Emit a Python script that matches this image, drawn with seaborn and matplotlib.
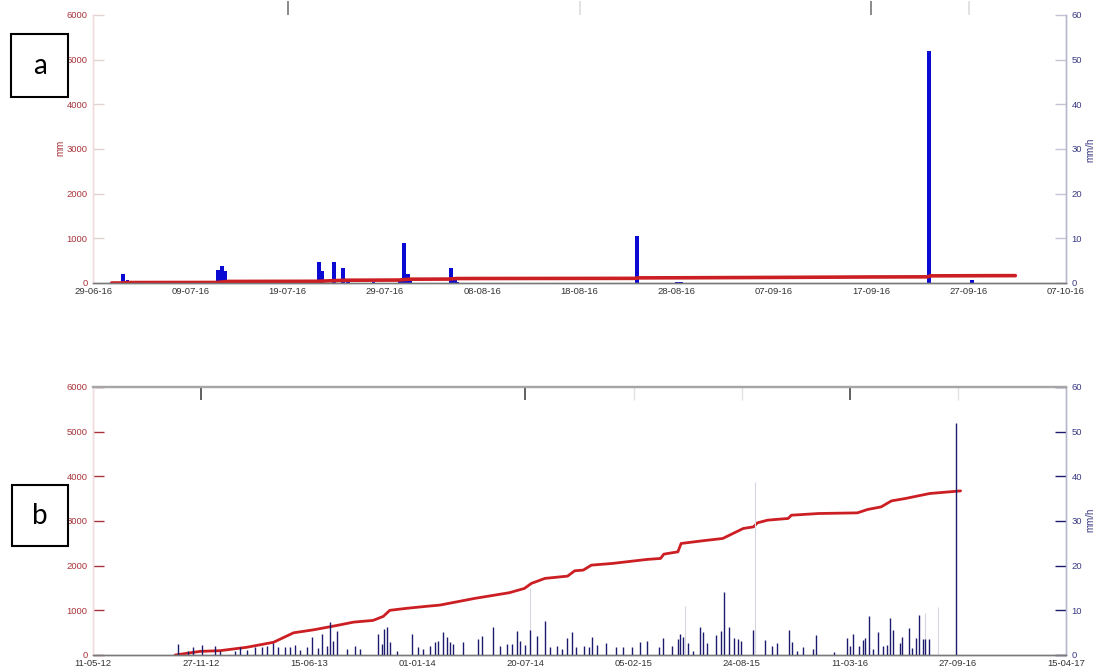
import pandas as pd
import matplotlib
matplotlib.use("Agg")
import matplotlib.pyplot as plt
import matplotlib.dates as mdates
from matplotlib.patches import Rectangle
import seaborn as sns

# ---------------- panel a : 29-06-16 .. 07-10-16 ----------------
a_cum_time = ["2016-06-30 22:00", "2016-07-01 22:00", "2016-07-02 14:00", "2016-07-11 17:00",
              "2016-07-12 22:00", "2016-07-22 00:00", "2016-07-24 22:00", "2016-07-30 10:00",
              "2016-07-31 12:00", "2016-08-04 14:00", "2016-08-05 10:00", "2016-08-23 17:00",
              "2016-08-24 02:00", "2016-08-28 14:00", "2016-09-07 00:00", "2016-09-17 00:00",
              "2016-09-22 19:00", "2016-09-23 02:00", "2016-09-27 14:00", "2016-10-01 19:00"]
a_cum_mm = [0, 0, 10, 12, 35, 38, 62, 66, 85, 88, 100, 104, 115, 117, 125, 135, 138, 160, 163, 165]

a_rain_time = ["2016-07-02 02:00", "2016-07-02 13:00", "2016-07-11 19:00", "2016-07-12 01:00",
               "2016-07-12 07:00", "2016-07-12 13:00", "2016-07-12 20:00", "2016-07-14 02:00",
               "2016-07-22 05:00", "2016-07-22 14:00", "2016-07-23 18:00", "2016-07-24 17:00",
               "2016-07-25 05:00", "2016-07-27 20:00", "2016-07-30 13:00", "2016-07-30 23:00",
               "2016-07-31 08:00", "2016-07-31 14:00", "2016-08-04 20:00", "2016-08-05 04:00",
               "2016-08-05 10:00", "2016-08-23 22:00", "2016-08-28 00:00", "2016-08-28 10:00",
               "2016-09-22 23:00", "2016-09-27 08:00"]
a_rain_mmh = [2.0, 0.7, 2.9, 3.0, 3.7, 2.7, 0.4, 0.3,
              4.8, 2.7, 4.6, 3.4, 0.3, 0.3, 0.6, 9.0,
              2.1, 0.4, 3.4, 0.8, 0.3, 10.6, 0.25, 0.25,
              52.0, 0.7]
a_ticks = ["2016-06-29", "2016-07-09", "2016-07-19", "2016-07-29", "2016-08-08", "2016-08-18",
           "2016-08-28", "2016-09-07", "2016-09-17", "2016-09-27", "2016-10-07"]

# ---------------- panel b : 11-05-12 .. 15-04-17 ----------------
b_cum_time = ["2012-10-10", "2012-11-25", "2013-01-01", "2013-02-19", "2013-04-10", "2013-05-17",
              "2013-06-23", "2013-08-05", "2013-09-05", "2013-10-11", "2013-10-30", "2013-11-11",
              "2013-12-12", "2014-01-18", "2014-02-12", "2014-04-17", "2014-06-20", "2014-07-18",
              "2014-07-31", "2014-08-25", "2014-10-06", "2014-10-19", "2014-11-04", "2014-11-19",
              "2014-12-28", "2015-03-02", "2015-03-27", "2015-04-02", "2015-04-28", "2015-05-04",
              "2015-06-12", "2015-07-20", "2015-08-08", "2015-08-27", "2015-09-15", "2015-09-22",
              "2015-10-11", "2015-11-18", "2015-11-24", "2016-01-14", "2016-03-25", "2016-04-13",
              "2016-05-08", "2016-05-27", "2016-06-22", "2016-08-06", "2016-10-02"]
b_cum_mm = [0, 81, 97, 172, 285, 497, 564, 661, 736, 774, 864, 1000,
            1045, 1090, 1118, 1267, 1394, 1490, 1603, 1715, 1766, 1885, 1901, 2012,
            2050, 2140, 2162, 2258, 2310, 2497, 2556, 2609, 2721, 2833, 2869, 2958,
            3019, 3057, 3130, 3168, 3182, 3258, 3316, 3450, 3504, 3616, 3674]

b_rain_time = ["2012-10-16", "2012-11-03", "2012-11-12", "2012-11-29", "2012-12-23", "2013-01-01",
               "2013-01-29", "2013-02-07", "2013-02-20", "2013-03-07", "2013-03-20", "2013-03-29",
               "2013-04-09", "2013-04-18", "2013-05-01", "2013-05-10", "2013-05-20", "2013-05-29",
               "2013-06-11", "2013-06-20", "2013-07-01", "2013-07-09", "2013-07-18", "2013-07-23",
               "2013-07-29", "2013-08-05", "2013-08-24", "2013-09-08", "2013-09-17", "2013-10-20",
               "2013-10-28", "2013-10-31", "2013-11-06", "2013-11-11", "2013-11-24", "2013-12-22",
               "2014-01-02", "2014-01-11", "2014-01-24", "2014-02-03", "2014-02-08", "2014-02-17",
               "2014-02-25", "2014-03-02", "2014-03-08", "2014-03-26", "2014-04-23", "2014-05-01",
               "2014-05-21", "2014-06-03", "2014-06-16", "2014-06-25", "2014-07-04", "2014-07-10",
               "2014-07-19", "2014-07-28", "2014-08-10", "2014-08-25", "2014-09-03", "2014-09-16",
               "2014-09-25", "2014-10-05", "2014-10-14", "2014-10-22", "2014-11-05", "2014-11-15",
               "2014-11-21", "2014-11-30", "2014-12-16", "2015-01-04", "2015-01-17", "2015-02-02",
               "2015-02-17", "2015-03-02", "2015-03-24", "2015-03-31", "2015-04-18", "2015-04-28",
               "2015-05-02", "2015-05-08", "2015-05-17", "2015-05-26", "2015-06-08", "2015-06-14",
               "2015-06-21", "2015-07-07", "2015-07-16", "2015-07-22", "2015-08-01", "2015-08-10",
               "2015-08-17", "2015-08-23", "2015-09-14", "2015-10-06", "2015-10-19", "2015-10-28",
               "2015-11-20", "2015-11-26", "2015-12-05", "2015-12-16", "2016-01-03", "2016-01-08",
               "2016-02-10", "2016-03-05", "2016-03-11", "2016-03-17", "2016-03-28", "2016-04-04",
               "2016-04-09", "2016-04-16", "2016-04-23", "2016-05-02", "2016-05-12", "2016-05-18",
               "2016-05-24", "2016-05-30", "2016-06-12", "2016-06-15", "2016-06-28", "2016-07-04",
               "2016-07-12", "2016-07-17", "2016-07-25", "2016-07-29", "2016-08-04", "2016-09-22 23:00"]
b_rain_mmh = [2.5, 1.0, 1.7, 2.3, 2.1, 1.0,
              0.8, 1.7, 1.1, 1.7, 1.7, 2.1,
              2.6, 1.9, 1.7, 1.7, 2.2, 1.1,
              1.7, 4.1, 1.6, 4.7, 2.1, 7.5,
              3.2, 5.3, 1.3, 2.1, 1.3, 4.8,
              2.5, 5.8, 6.3, 2.8, 1.0, 4.8,
              1.7, 1.3, 2.1, 2.8, 3.2, 5.1,
              4.0, 2.8, 2.5, 2.8, 3.6, 4.3,
              6.2, 2.1, 2.5, 2.5, 5.3, 3.2,
              2.3, 5.6, 4.3, 7.7, 1.7, 2.1,
              1.3, 3.8, 5.2, 1.7, 2.1, 1.7,
              4.1, 2.3, 2.7, 1.7, 1.7, 1.9,
              2.9, 3.2, 1.7, 3.9, 2.1, 3.5,
              4.7, 4.1, 2.6, 1.0, 6.2, 5.2,
              2.6, 4.4, 5.4, 14.0, 6.2, 3.7,
              3.5, 3.1, 5.5, 3.3, 2.1, 2.7,
              5.7, 2.9, 1.0, 1.7, 1.3, 4.4,
              0.6, 3.9, 2.1, 4.7, 2.1, 3.3,
              3.7, 8.8, 1.3, 5.2, 2.1, 2.3,
              8.3, 5.5, 2.6, 4.1, 6.0, 1.6,
              3.9, 9.0, 3.5, 3.5, 3.5, 52.0]

# short, sharp bursts (drawn as hairlines)
b_burst_time = ["2014-07-28", "2015-05-12", "2015-09-18", "2016-07-28", "2016-08-22"]
b_burst_mmh = [15.0, 11.0, 38.7, 9.3, 10.7]

b_ticks = ["2012-05-11", "2012-11-27", "2013-06-15", "2014-01-01", "2014-07-20", "2015-02-05",
           "2015-08-24", "2016-03-11", "2016-09-27", "2017-04-15"]


def to_time(values):
    return pd.to_datetime(values, format="ISO8601")


# ---------------- styling ----------------
RED = "#cc1f24"
RED_TXT = "#a8343a"
BLUE = "#0a0ad2"
NAVY = "#1c1c6e"
NAVY_TXT = "#3a3a82"
FS = 6.8

sns.set_theme(style="white")
plt.rcParams["font.family"] = ["Liberation Sans", "DejaVu Sans"]

W, H = 1096, 670
fig = plt.figure(figsize=(W / 100, H / 100), dpi=100)


def px_axes(left, top, right, bottom):
    return fig.add_axes([left / W, 1 - bottom / H, (right - left) / W, (bottom - top) / H])


def style_panel(ax, ax2, ticks, strong_left, strong_right):
    ax.set_xlim(to_time([ticks[0]])[0], to_time([ticks[-1]])[0])
    ax.set_ylim(0, 6000)
    ax2.set_ylim(0, 60)
    ax.set_xticks(to_time(ticks))
    ax.xaxis.set_major_formatter(mdates.DateFormatter("%d-%m-%y"))
    ax.set_yticks(range(0, 6001, 1000))
    ax2.set_yticks(range(0, 61, 10))
    ax.tick_params(axis="x", length=0, labelsize=FS, labelcolor="#333333", pad=3)
    ax.tick_params(axis="y", direction="in", length=8, width=1,
                   color=RED_TXT if strong_left else "#e2d2d2",
                   labelsize=FS, labelcolor=RED_TXT, pad=4)
    ax2.tick_params(axis="y", direction="in", length=8, width=1,
                    color=NAVY if strong_right else "#c4c4d6",
                    labelsize=FS, labelcolor=NAVY_TXT, pad=4)
    for a in (ax, ax2):
        a.grid(False)
        a.set_xlabel("")
        a.set_ylabel("")
        a.spines["left"].set_color("#f0dcdc")
        a.spines["right"].set_color("#b8b8cc")
        a.spines["bottom"].set_color("#7a7a7a")
        for s in a.spines.values():
            s.set_linewidth(1.0)


# ---------------- panel a ----------------
ax_a = px_axes(93, 15, 1066, 283)
ax_a2 = ax_a.twinx()
ax_a2.bar(to_time(a_rain_time), a_rain_mmh, width=0.4, color=BLUE, linewidth=0, align="center")
cum_a = pd.DataFrame({"time": to_time(a_cum_time), "mm": a_cum_mm})
sns.lineplot(data=cum_a, x="time", y="mm", ax=ax_a, color=RED, linewidth=2.6)
ax_a.set_zorder(ax_a2.get_zorder() + 1)
ax_a.patch.set_visible(False)
style_panel(ax_a, ax_a2, a_ticks, False, False)
for a in (ax_a, ax_a2):
    a.spines["top"].set_visible(False)

# faint tick marks along the top and bottom edges of panel a
top_a = ax_a.secondary_xaxis("top")
top_a.set_xticks(to_time(["2016-07-19", "2016-09-17"]))
top_a.set_xticks(to_time(["2016-08-18", "2016-09-27"]), minor=True)
top_a.tick_params(which="major", direction="out", length=10, width=1.2, color="#777777", labeltop=False)
top_a.tick_params(which="minor", direction="out", length=10, width=1.2, color="#dddddd", labeltop=False)
top_a.spines["top"].set_visible(False)
ax_a.set_xticks(to_time(["2016-07-19", "2016-09-17"]), minor=True)
ax_a.tick_params(axis="x", which="minor", direction="in", length=10, width=1.2, color="#8a8a8a")

fig.text(60 / W, 1 - 148 / H, "mm", rotation=90, ha="center", va="center",
         fontsize=7, color=RED_TXT)
fig.text(1090 / W, 1 - 150 / H, "mm/h", rotation=90, ha="center", va="center",
         fontsize=7, color=NAVY_TXT)

# ---------------- panel b ----------------
ax_b = px_axes(93, 387, 1066, 655)
ax_b2 = ax_b.twinx()
cum_b = pd.DataFrame({"time": to_time(b_cum_time), "mm": b_cum_mm})
sns.lineplot(data=cum_b, x="time", y="mm", ax=ax_b, color=RED, linewidth=2.0)
ax_b2.vlines(to_time(b_burst_time), 0, b_burst_mmh, color="#d6d6e2", linewidth=0.8)
ax_b2.vlines(to_time(b_rain_time), 0, b_rain_mmh, color=NAVY, linewidth=1.0)
style_panel(ax_b, ax_b2, b_ticks, True, True)
for a in (ax_b, ax_b2):
    a.spines["top"].set_color("#a6a6a6")
    a.spines["top"].set_linewidth(1.6)

top_b = ax_b.secondary_xaxis("top")
top_b.set_xticks(to_time(["2012-11-27", "2014-07-20", "2016-03-11"]))
top_b.set_xticks(to_time(["2015-02-05", "2015-08-24", "2016-09-27"]), minor=True)
top_b.tick_params(which="major", direction="in", length=9, width=1.2, color="#444444", labeltop=False)
top_b.tick_params(which="minor", direction="in", length=9, width=1.0, color="#e2e2e2", labeltop=False)
top_b.spines["top"].set_visible(False)

fig.text(1090 / W, 1 - 520 / H, "mm/h", rotation=90, ha="center", va="center",
         fontsize=7, color=NAVY_TXT)

# ---------------- panel letters ----------------
for (x0, y0, x1, y1, letter) in [(11, 34, 68, 97, "a"), (12, 485, 68, 546, "b")]:
    fig.patches.append(Rectangle((x0 / W, 1 - y1 / H), (x1 - x0) / W, (y1 - y0) / H,
                                 transform=fig.transFigure, fill=False,
                                 edgecolor="black", linewidth=1.5))
    fig.text((x0 + x1) / 2 / W, 1 - (y0 + y1) / 2 / H, letter, ha="center", va="center",
             fontsize=20, family=["Lato", "DejaVu Sans"], color="black")

fig.savefig("out.png", dpi=100, facecolor="white")
